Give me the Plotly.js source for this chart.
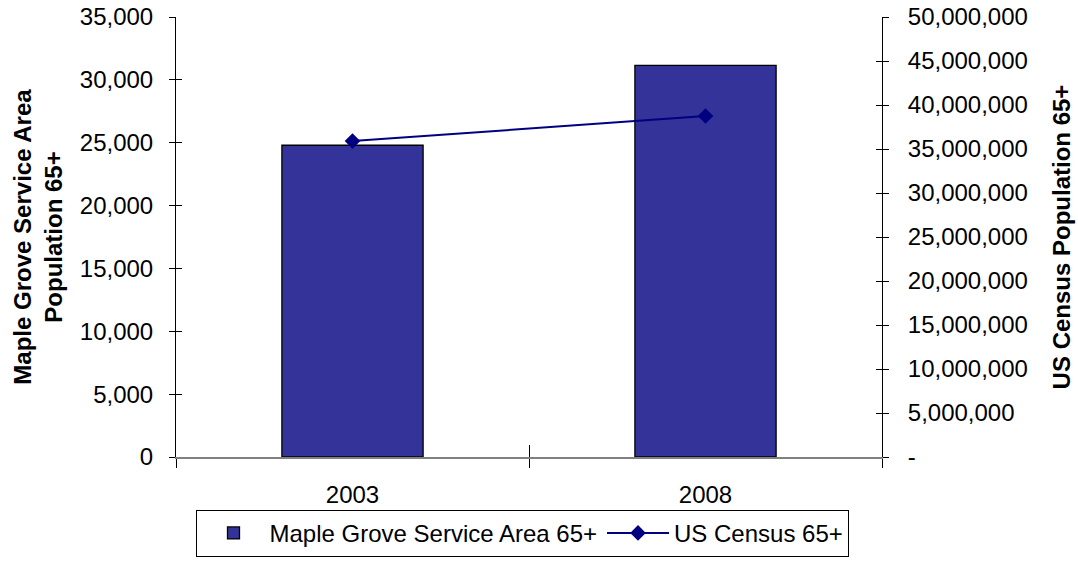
<!DOCTYPE html>
<html>
<head>
<meta charset="utf-8">
<script src="https://cdn.plot.ly/plotly-3.0.1.min.js"></script>
<style>html,body{margin:0;padding:0;background:#fff;}#chart{width:1078px;height:583px;}</style>
</head>
<body>
<div id="chart"></div>
<script>
const categories = ['2003', '2008'];
const mapleGrove65 = [24800, 31150];
const usCensus65 = [35900000, 38750000];
const leftTicks = [0, 5000, 10000, 15000, 20000, 25000, 30000, 35000];
const rightTicks = [0, 5000000, 10000000, 15000000, 20000000, 25000000, 30000000, 35000000, 40000000, 45000000, 50000000];
const rightTickText = ['-', '5,000,000', '10,000,000', '15,000,000', '20,000,000', '25,000,000', '30,000,000', '35,000,000', '40,000,000', '45,000,000', '50,000,000'];

const fontFam = 'Liberation Sans, Arial, sans-serif';
const fs = 24;

const traces = [
  {
    type: 'bar', name: 'Maple Grove Service Area 65+',
    x: categories, y: mapleGrove65,
    marker: {color: '#333399', line: {color: '#000000', width: 1.3}},
    width: 0.4, xaxis: 'x', yaxis: 'y', hoverinfo: 'x+y'
  },
  {
    type: 'scatter', mode: 'lines+markers', name: 'US Census 65+',
    x: categories, y: usCensus65,
    line: {color: '#000080', width: 2},
    marker: {symbol: 'diamond', size: 12, color: '#000080'},
    xaxis: 'x', yaxis: 'y2'
  },
  {
    type: 'scatter', mode: 'markers', x: categories, y: [0, 0],
    marker: {opacity: 0}, showlegend: false, hoverinfo: 'skip',
    xaxis: 'x2', yaxis: 'y3'
  },
  {
    type: 'scatter', mode: 'markers', x: categories, y: [0, 0],
    marker: {opacity: 0}, showlegend: false, hoverinfo: 'skip',
    xaxis: 'x2', yaxis: 'y4'
  }
];

const layout = {
  width: 1078, height: 583,
  margin: {l: 176, r: 196, t: 17, b: 126},
  paper_bgcolor: '#ffffff', plot_bgcolor: '#ffffff',
  font: {family: fontFam, size: fs, color: '#000000'},
  showlegend: true,
  xaxis: {
    type: 'category', categoryorder: 'array', categoryarray: categories,
    tickson: 'boundaries', ticks: 'outside', ticklen: 9, tickcolor: '#000', tickwidth: 1,
    showline: true, linecolor: '#808080', linewidth: 1.5,
    showgrid: false, zeroline: false, automargin: false,
    ticklabelstandoff: 16,
    tickfont: {size: fs}
  },
  xaxis2: {
    type: 'category', categoryorder: 'array', categoryarray: categories,
    overlaying: 'x', matches: 'x',
    tickson: 'boundaries', ticks: 'inside', ticklen: 12, tickcolor: '#000', tickwidth: 1,
    showticklabels: false, showline: false, showgrid: false, zeroline: false
  },
  yaxis: {
    range: [0, 35000], tickvals: leftTicks, tickformat: ',',
    ticks: 'outside', ticklen: 6, tickcolor: '#000', tickwidth: 1,
    showline: true, linecolor: '#000', linewidth: 1,
    showgrid: false, zeroline: false, automargin: false,
    ticklabelstandoff: 11,
    title: {text: '<b>Maple Grove Service Area<br>Population 65+</b>', font: {size: fs}, standoff: 10},
    tickfont: {size: fs}
  },
  yaxis2: {
    range: [0, 50000000], tickvals: rightTicks, ticktext: rightTickText,
    overlaying: 'y', side: 'right',
    ticks: 'outside', ticklen: 6, tickcolor: '#000', tickwidth: 1,
    showline: true, linecolor: '#000', linewidth: 1,
    showgrid: false, zeroline: false, automargin: false,
    ticklabelstandoff: 14,
    title: {text: '<b>US Census Population 65+</b>', font: {size: fs}, standoff: 26},
    tickfont: {size: fs}
  },
  yaxis3: {
    range: [0, 35000], tickvals: leftTicks, overlaying: 'y', side: 'left',
    ticks: 'inside', ticklen: 6, tickcolor: '#000', tickwidth: 1,
    showticklabels: false, showline: false, showgrid: false, zeroline: false
  },
  yaxis4: {
    range: [0, 50000000], tickvals: rightTicks, overlaying: 'y', side: 'right',
    ticks: 'inside', ticklen: 6, tickcolor: '#000', tickwidth: 1,
    showticklabels: false, showline: false, showgrid: false, zeroline: false
  },
  legend: {
    orientation: 'h', x: 0.4915, xanchor: 'center', y: -0.12, yanchor: 'top',
    bordercolor: '#000', borderwidth: 1, bgcolor: '#fff',
    font: {size: fs}, tracegroupgap: 0, itemwidth: 62
  }
};

Plotly.newPlot('chart', traces, layout, {displayModeBar: false, staticPlot: true});
</script>
</body>
</html>
